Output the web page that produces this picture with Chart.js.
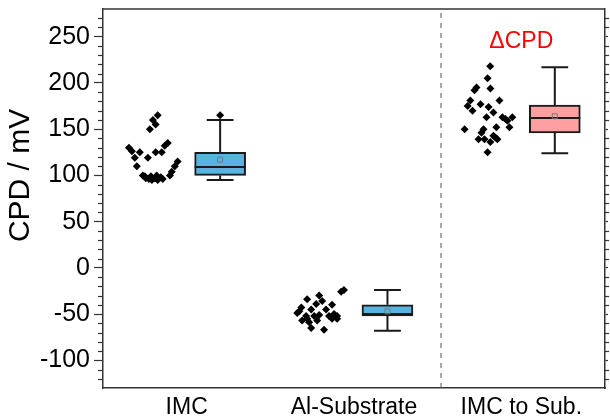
<!DOCTYPE html>
<html><head><meta charset="utf-8">
<script src="https://cdn.jsdelivr.net/npm/chart.js@4"></script>
<style>html,body{margin:0;padding:0;background:#fff}</style>
</head><body>
<canvas id="c" width="610" height="418"></canvas>
<script>
// ---------- data ----------
const categories = ['IMC', 'Al-Substrate', 'IMC to Sub.'];
const yTickValues = [-100, -50, 0, 50, 100, 150, 200, 250];
const yTitle = 'CPD / mV';

const imcValues = [130,126,119,125,110,119,125,125,132,135,150,155,160,165,115,110,104,100,100,97,96,95,97,95,98,96,99,100,99];
const imcJitter = [-0.345,-0.327,-0.31,-0.28,-0.298,-0.232,-0.185,-0.149,-0.131,-0.113,-0.22,-0.185,-0.202,-0.173,-0.054,-0.071,-0.089,-0.1,-0.262,-0.244,-0.226,-0.208,-0.19,-0.173,-0.155,-0.143,-0.214,-0.179,-0.25];

const alValues = [-24,-26,-34,-30,-36,-39,-45,-43,-47,-49,-40,-45,-52,-52,-51,-52,-50,-52,-55,-55,-57,-59,-65,-67,-55,-57];
const alJitter = [-0.06,-0.077,-0.28,-0.208,-0.19,-0.226,-0.256,-0.315,-0.327,-0.339,-0.131,-0.167,-0.286,-0.238,-0.208,-0.149,-0.119,-0.101,-0.131,-0.101,-0.22,-0.268,-0.256,-0.179,-0.28,-0.31];

const dcpdValues = [218,205,195,192,194,181,175,177,174,181,170,168,163,163,161,159,163,152,150,152,150,146,139,139,143,141,139,136,125];
const dcpdJitter = [-0.186,-0.202,-0.268,-0.28,-0.185,-0.305,-0.321,-0.244,-0.196,-0.131,-0.292,-0.167,-0.208,-0.113,-0.095,-0.083,-0.054,-0.071,-0.339,-0.149,-0.226,-0.238,-0.256,-0.22,-0.167,-0.155,-0.143,-0.185,-0.202];

const boxQ1 = [100, -52, 146];
const boxQ3 = [125, -40, 176];
const boxMedian = [109, -50, 162];
const boxMean = [117, -47, 164];
const whiskerLow = [95, -68, 124];
const whiskerHigh = [160, -24, 217];
const outlierCategory = [0];
const outlierValues = [165];

const deltaLabel = 'ΔCPD';
const deltaLabelValue = 245;
const separatorAt = 1.52;

// ---------- layout / style constants ----------
const BOX_SHIFT = 0.2;
const BOX_HALF = 0.152;
const CAP_HALF = 0.08;
const Y_MIN = -130, Y_MAX = 280;
const TITLE_AT = 100;
const FONT = 'Liberation Sans, Arial, sans-serif';
const boxColors = ['#58B3DF', '#58B3DF', '#FF9FA1'];

// ---------- build datasets ----------
function scatterPts(vals, jit, cat) { return vals.map((v, i) => ({x: cat + jit[i], y: v})); }
const allScatter = [].concat(scatterPts(imcValues, imcJitter, 0), scatterPts(alValues, alJitter, 1), scatterPts(dcpdValues, dcpdJitter, 2));

const boxBars = categories.map((c, i) => ({x: i + BOX_SHIFT, y: [boxQ1[i], boxQ3[i]]}));
const whiskerPts = [];
const medianPts = [];
categories.forEach((c, i) => {
  const x = i + BOX_SHIFT;
  whiskerPts.push({x, y: boxQ3[i]}, {x, y: whiskerHigh[i]}, {x, y: null},
                  {x: x - CAP_HALF, y: whiskerHigh[i]}, {x: x + CAP_HALF, y: whiskerHigh[i]}, {x, y: null},
                  {x, y: boxQ1[i]}, {x, y: whiskerLow[i]}, {x, y: null},
                  {x: x - CAP_HALF, y: whiskerLow[i]}, {x: x + CAP_HALF, y: whiskerLow[i]}, {x, y: null});
  medianPts.push({x: x - BOX_HALF, y: boxMedian[i]}, {x: x + BOX_HALF, y: boxMedian[i]}, {x, y: null});
});
const meanPts = categories.map((c, i) => ({x: i + BOX_SHIFT, y: boxMean[i]}));
const outlierPts = outlierCategory.map((c, i) => ({x: c + BOX_SHIFT, y: outlierValues[i]}));
const separatorPts = [{x: separatorAt, y: Y_MIN}, {x: separatorAt, y: Y_MAX}];

// ---------- plugins ----------
const framePlugin = {
  id: 'frame',
  afterDraw(chart) {
    const ctx = chart.ctx, a = chart.chartArea;
    const y = chart.scales.y;
    ctx.save();
    ctx.strokeStyle = '#333';
    ctx.lineWidth = 1.5;
    ctx.beginPath(); ctx.moveTo(a.left, a.top); ctx.lineTo(a.right, a.top); ctx.stroke();
    // minor ticks
    ctx.lineWidth = 1.2;
    for (let v = -120; v <= 270; v += 10) {
      if (v % 50 === 0) continue;
      const py = Math.round(y.getPixelForValue(v)) + 0.5;
      ctx.beginPath(); ctx.moveTo(a.left - 5, py); ctx.lineTo(a.left, py); ctx.stroke();
      ctx.beginPath(); ctx.moveTo(a.right, py); ctx.lineTo(a.right + 4, py); ctx.stroke();
    }
    // delta label
    ctx.fillStyle = '#FF0000';
    ctx.font = '23px ' + FONT;
    ctx.textAlign = 'center';
    ctx.textBaseline = 'middle';
    ctx.fillText(deltaLabel, chart.scales.x.getPixelForValue(2), y.getPixelForValue(deltaLabelValue));
    // y axis title
    ctx.fillStyle = '#000';
    ctx.font = '30px ' + FONT;
    ctx.translate(21, y.getPixelForValue(TITLE_AT));
    ctx.rotate(-Math.PI / 2);
    ctx.fillText(yTitle, 0, 0);
    ctx.restore();
  }
};

new Chart(document.getElementById('c'), {
  type: 'scatter',
  data: {
    datasets: [
      {type: 'line', data: separatorPts, borderColor: '#555', borderWidth: 1, borderDash: [5, 5], pointRadius: 0, order: 10},
      {type: 'line', data: whiskerPts, borderColor: '#1a1a1a', borderWidth: 2, pointRadius: 0, spanGaps: false, order: 5},
      {type: 'bar', data: boxBars, backgroundColor: boxColors, borderColor: '#1a1a1a', borderWidth: 2, borderSkipped: false, barThickness: 51, grouped: false, order: 4},
      {type: 'line', data: medianPts, borderColor: '#1a1a1a', borderWidth: 2, pointRadius: 0, spanGaps: false, order: 3},
      {type: 'scatter', data: meanPts, pointStyle: 'rect', pointRadius: 3.5, backgroundColor: 'rgba(0,0,0,0)', borderColor: '#777', borderWidth: 1, order: 2},
      {type: 'scatter', data: outlierPts, pointStyle: 'rectRot', pointRadius: 4, backgroundColor: '#000', borderColor: '#000', borderWidth: 0, order: 1},
      {type: 'scatter', data: allScatter, pointStyle: 'rectRot', pointRadius: 4, backgroundColor: '#000', borderColor: '#000', borderWidth: 0, order: 1}
    ]
  },
  options: {
    responsive: false,
    animation: false,
    layout: {padding: {top: 9, left: 0, right: 0, bottom: 0}},
    plugins: {legend: {display: false}, tooltip: {enabled: false}},
    scales: {
      x: {
        type: 'linear', min: -0.5, max: 2.5, offset: false,
        afterBuildTicks(s) { s.ticks = categories.map((c, i) => ({value: i})); },
        afterFit(s) { s.height = 30; s.paddingLeft = 0; s.paddingRight = 0; },
        ticks: {callback: v => categories[v] ?? '', color: '#000', font: {family: FONT, size: 23}, padding: 6, maxRotation: 0, autoSkip: false},
        grid: {display: false, drawTicks: false, offset: false},
        border: {display: true, color: '#333', width: 1.5}
      },
      y: {
        type: 'linear', position: 'left', min: Y_MIN, max: Y_MAX,
        afterFit(s) { s.width = 103; s.paddingTop = 0; s.paddingBottom = 0; },
        ticks: {stepSize: 50, includeBounds: false, color: '#000', font: {family: FONT, size: 25}, padding: 4,
                callback: v => yTickValues.includes(v) ? String(v) : ''},
        grid: {drawOnChartArea: false, drawTicks: true, tickLength: 9, tickColor: '#333', tickWidth: 1.2},
        border: {display: true, color: '#333', width: 1.5}
      },
      yRight: {
        type: 'linear', position: 'right', min: Y_MIN, max: Y_MAX,
        afterFit(s) { s.width = 3; s.paddingTop = 0; s.paddingBottom = 0; },
        ticks: {display: false, stepSize: 50, includeBounds: false},
        grid: {drawOnChartArea: false, drawTicks: true, tickLength: 3, tickColor: '#333', tickWidth: 1.2},
        border: {display: true, color: '#333', width: 1.5}
      }
    }
  },
  plugins: [framePlugin]
});
</script>
</body></html>
